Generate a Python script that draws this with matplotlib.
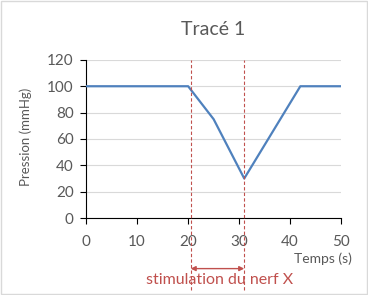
import matplotlib
matplotlib.use("Agg")
import matplotlib.pyplot as plt
from matplotlib.patches import Rectangle

plt.rcParams["font.family"] = ["Lato", "DejaVu Sans"]

# données du tracé
temps = [0, 20, 25, 31, 42, 50]
pression = [100, 100, 75, 30, 100, 100]
stim_debut = 20.5
stim_fin = 31
x_ticks = [0, 10, 20, 30, 40, 50]
y_ticks = [0, 20, 40, 60, 80, 100, 120]

gris = "#595959"
rouge = "#c0504d"

fig = plt.figure(figsize=(3.68, 2.95), dpi=100)
fig.patches.append(Rectangle((0.002, 0.002), 0.996, 0.996, transform=fig.transFigure,
                             fill=False, edgecolor="#d9d9d9", linewidth=1))
ax = fig.add_axes([0.234, 0.261, 0.693, 0.536])

ax.plot(temps, pression, color="#4f81bd", linewidth=1.6, zorder=3)

ax.set_xlim(0, 50)
ax.set_ylim(0, 120)
ax.set_xticks(x_ticks)
ax.set_yticks(y_ticks)
ax.grid(axis="y", color="#d9d9d9", linewidth=0.8)
ax.set_axisbelow(True)
for s in ["top", "right"]:
    ax.spines[s].set_visible(False)
ax.spines["left"].set_color("black")
ax.spines["bottom"].set_color("black")
ax.tick_params(axis="both", colors="black", labelcolor=gris, labelsize=11, length=4)
ax.tick_params(axis="x", pad=8)
ax.tick_params(axis="y", pad=5)

ax.set_title("Tracé 1", color=gris, fontsize=14, pad=18)
ax.set_ylabel("Pression (mmHg)", color=gris, fontsize=9.5)
ax.yaxis.set_label_coords(-0.212, 0.513)
ax.text(1.043, -0.26, "Temps (s)", transform=ax.transAxes, ha="right", va="center",
        color=gris, fontsize=10)

# stimulation du nerf X
for xv in [stim_debut, stim_fin]:
    ax.axvline(xv, ymin=-0.456, ymax=1, color=rouge, linestyle=(0, (3, 2)),
               linewidth=0.8, clip_on=False, zorder=4)
ax.annotate("", xy=(stim_debut, -0.32), xytext=(stim_fin, -0.32),
            xycoords=("data", "axes fraction"), textcoords=("data", "axes fraction"),
            arrowprops=dict(arrowstyle="<|-|>", color=rouge, linewidth=1,
                            mutation_scale=7, shrinkA=0, shrinkB=0))
ax.text(26.2, -0.39, "stimulation du nerf X",
        transform=ax.get_xaxis_transform(), ha="center", va="center",
        color=rouge, fontsize=11.5)

fig.savefig("out.png", dpi=100)
